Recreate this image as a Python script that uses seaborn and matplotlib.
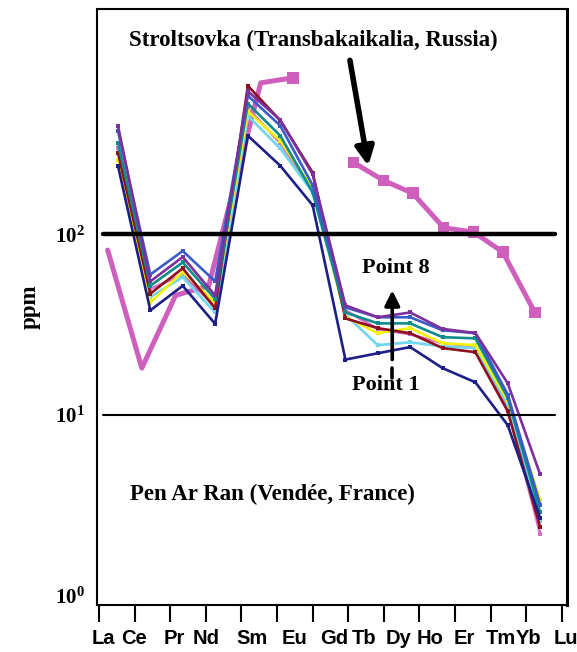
import numpy as np
import pandas as pd
import matplotlib
matplotlib.use("Agg")
import matplotlib.pyplot as plt
import seaborn as sns

# ---------------- data ----------------
elements = ["La", "Ce", "Pr", "Nd", "Sm", "Eu", "Gd", "Tb", "Dy", "Ho", "Er", "Tm", "Yb", "Lu"]

# x positions (in element-tick units)
pen_x = [0.53, 1.44, 2.35, 3.26, 4.18, 5.09, 6.00, 6.92, 7.83, 8.74, 9.65, 10.57, 11.48, 12.39]
strol_x_left = [0.24, 1.20, 2.15, 3.08, 4.54, 5.44]          # La..Eu
strol_x_right = [7.15, 7.99, 8.81, 9.68, 10.52, 11.34, 12.24]  # Tb..Lu

# Stroltsovka (Transbakaikalia, Russia)
strol_left = [82, 18.2, 46, 52, 690, 736]
strol_right = [250, 199, 169, 109, 103, 80, 37]

# Pen Ar Ran (Vendée, France) – eight analysed points
pen_pink = [300, 50, 60, 40, 500, 320, 175, 38, 30, 28, 25, 24, 11.0, 2.2]
pen_cyan = [322, 45, 58, 37, 454, 299, 171, 36, 24.4, 25.3, 24, 23.5, 11.5, 2.6]
pen_yellow = [257, 42, 62, 42, 480, 330, 180, 35, 28.4, 30.3, 25, 24.4, 12.0, 3.4]
pen_maroon = [284, 47, 65, 39, 665, 427, 220, 34.3, 30.3, 28.4, 23.5, 22.3, 10.5, 2.4]
pen_teal = [322, 52, 70, 44, 530, 352, 171, 37, 32.2, 32.2, 27, 26.6, 12.5, 2.9]
pen_blue = [375, 60, 81, 55, 586, 400, 187, 39.5, 34.8, 34.8, 29.5, 28.4, 13.0, 3.2]
pen_purple = [400, 55, 75, 46, 620, 430, 215, 40.5, 34.8, 37, 30, 28.5, 15.0, 4.7]
pen_navy = [240, 38, 52, 32, 352, 240, 145, 20.3, 22, 23.8, 18.2, 15.2, 8.8, 2.7]

series_names = ["pink", "cyan", "yellow", "maroon", "teal", "blue", "purple", "navy"]
series_vals = [pen_pink, pen_cyan, pen_yellow, pen_maroon, pen_teal, pen_blue, pen_purple, pen_navy]
series_colors = ["#d36fc4", "#6fd6f0", "#f4f20a", "#8e1020", "#0e8c8a", "#3a5cc8", "#7d2f9c", "#1d1f86"]

# ---------------- style ----------------
sns.set_style("ticks")
plt.rcParams["font.family"] = ["Liberation Serif", "DejaVu Serif"]
plt.rcParams["mathtext.fontset"] = "custom"
plt.rcParams["mathtext.rm"] = "Liberation Serif"
plt.rcParams["mathtext.bf"] = "Liberation Serif:bold"
for key in ["text.color", "axes.labelcolor", "xtick.color", "ytick.color", "axes.edgecolor"]:
    plt.rcParams[key] = "black"

fig = plt.figure(figsize=(5.77, 6.52), dpi=100)
ax = fig.add_axes([0.168, 0.072, 0.815, 0.914])

# Pen Ar Ran bundle
rows = []
for name, vals in zip(series_names, series_vals):
    for x, v, el in zip(pen_x, vals, elements):
        rows.append({"series": name, "x": x, "ppm": v, "el": el})
pen_df = pd.DataFrame(rows)

# Stroltsovka
strol_left_df = pd.DataFrame({"x": strol_x_left, "ppm": strol_left})
strol_right_df = pd.DataFrame({"x": strol_x_right, "ppm": strol_right})
strol_mark_df = pd.DataFrame({"x": strol_x_left[-1:] + strol_x_right,
                              "ppm": strol_left[-1:] + strol_right})

sns.lineplot(data=strol_left_df, x="x", y="ppm", ax=ax, color="#cf5fbd", lw=3.6,
             sort=False, zorder=2, legend=False)

sns.lineplot(data=pen_df, x="x", y="ppm", hue="series", hue_order=series_names,
             palette=dict(zip(series_names, series_colors)), ax=ax, lw=1.9,
             marker="s", markersize=3.4, markeredgewidth=0, sort=False,
             legend=False, zorder=3)

sns.lineplot(data=strol_right_df, x="x", y="ppm", ax=ax, color="#cf5fbd", lw=3.6,
             sort=False, zorder=4, legend=False)
sns.scatterplot(data=strol_mark_df, x="x", y="ppm", ax=ax, color="#cf5fbd", marker="s",
                s=70, edgecolor="none", zorder=5, legend=False)

ax.set_yscale("log")
ax.set_ylim(0.889, 1766)
ax.set_xlim(-0.06, 13.15)

# reference lines at 10^1 and 10^2
ax.axhline(100, xmin=0.013, xmax=0.974, color="black", lw=3.2, zorder=6)
ax.axhline(10, xmin=0.013, xmax=0.974, color="black", lw=1.5, zorder=6)

# y axis
ax.set_yticks([1, 10, 100])
ax.set_yticklabels([r"$\mathbf{10^{0}}$", r"$\mathbf{10^{1}}$", r"$\mathbf{10^{2}}$"],
                   fontsize=15)
ax.yaxis.set_minor_locator(matplotlib.ticker.NullLocator())
ax.tick_params(axis="y", which="both", length=0, pad=9)
ax.set_ylabel("ppm", fontsize=16.5, fontweight="bold", labelpad=10)

# x axis: tick marks on element ticks, labels where the reference prints them
ax.xaxis.remove_overlapping_locs = False
ax.set_xticks(np.arange(len(elements)))
ax.set_xticklabels([""] * len(elements))
label_pos = [0.13, 0.98, 2.1, 3.0, 4.3, 5.5, 6.6, 7.45, 8.4, 9.3, 10.25, 11.3, 12.05, 13.1]
ax.set_xticks(label_pos, minor=True)
ax.set_xticklabels(elements, minor=True, fontsize=14.5, fontweight="bold",
                   family=["Liberation Sans", "DejaVu Sans"])
ax.tick_params(axis="x", which="major", length=12, width=1.5, direction="out", color="black")
ax.tick_params(axis="x", which="minor", length=0, pad=17)
ax.set_xlabel("")

for side, lw in [("left", 1.5), ("bottom", 1.5), ("top", 1.5), ("right", 2.2)]:
    ax.spines[side].set_visible(True)
    ax.spines[side].set_linewidth(lw)
    ax.spines[side].set_color("black")

# annotations
ax.text(0.46, 0.948, "Stroltsovka (Transbakaikalia, Russia)", transform=ax.transAxes,
        ha="center", va="center", fontsize=16.5, fontweight="bold")
ax.text(0.07, 0.186, "Pen Ar Ran (Vendée, France)", transform=ax.transAxes,
        ha="left", va="center", fontsize=16.5, fontweight="bold")
ax.text(0.636, 0.565, "Point 8", transform=ax.transAxes,
        ha="center", va="center", fontsize=16, fontweight="bold")
ax.text(0.615, 0.369, "Point 1", transform=ax.transAxes,
        ha="center", va="center", fontsize=16, fontweight="bold")

ax.annotate("", xy=(0.577, 0.737), xytext=(0.538, 0.914),
            xycoords="axes fraction", textcoords="axes fraction",
            arrowprops=dict(arrowstyle="-|>,head_length=1.1,head_width=0.55",
                            lw=4.0, color="black", shrinkA=0, shrinkB=0), zorder=7)
ax.annotate("", xy=(0.628, 0.528), xytext=(0.628, 0.412),
            xycoords="axes fraction", textcoords="axes fraction",
            arrowprops=dict(arrowstyle="-|>,head_length=0.9,head_width=0.45",
                            lw=2.6, color="black", shrinkA=0, shrinkB=0), zorder=7)
ax.plot([0.628, 0.628], [0.381, 0.398], transform=ax.transAxes, color="black", lw=2.6, zorder=7)

fig.savefig("out.png", dpi=100)
